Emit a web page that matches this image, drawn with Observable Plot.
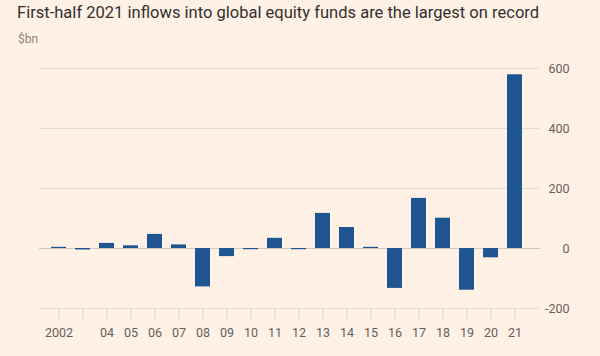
<!DOCTYPE html>
<html>
<head>
<meta charset="utf-8">
<script src="https://cdn.jsdelivr.net/npm/d3@7"></script>
<script src="https://cdn.jsdelivr.net/npm/@observablehq/plot@0.6"></script>
<style>
  html, body { margin: 0; padding: 0; background: #fff1e5; }
  #wrap { width: 600px; height: 356px; background: #fff1e5; font-family: Roboto, "Noto Sans", sans-serif; position: relative; overflow: hidden; }
  #title { position: absolute; left: 17px; top: 2px; font-size: 16.55px; line-height: 22px; color: #33302e; white-space: nowrap; }
  #sub { position: absolute; left: 18px; top: 31px; font-size: 12px; line-height: 16px; color: #8a837d; }
  #chart { position: absolute; left: 0; top: 50px; }
</style>
</head>
<body>
<div id="wrap">
  <div id="title">First-half 2021 inflows into global equity funds are the largest on record</div>
  <div id="sub">$bn</div>
  <div id="chart"></div>
</div>
<script>
const years = [2002, 2003, 2004, 2005, 2006, 2007, 2008, 2009, 2010, 2011,
               2012, 2013, 2014, 2015, 2016, 2017, 2018, 2019, 2020, 2021];
const inflows = [4, -5, 17, 9, 47, 12, -128, -27, -4, 34,
                 -4, 117, 70, 4, -133, 167, 101, -139, -31, 579];
const xTickLabels = ["2002", "", "04", "05", "06", "07", "08", "09", "10", "11",
                     "12", "13", "14", "15", "16", "17", "18", "19", "20", "21"];
const yTicks = [-200, 0, 200, 400, 600];

const data = years.map((y, i) => ({year: y, value: inflows[i]}));

const chart = Plot.plot({
  width: 600,
  height: 306,
  marginTop: 18,
  marginBottom: 48,
  marginLeft: 39,
  marginRight: 60,
  style: {background: "transparent", fontFamily: "Roboto, 'Noto Sans', sans-serif", fontSize: "12px"},
  x: {type: "band", domain: years, paddingInner: 0.36, paddingOuter: 0, insetLeft: 6.5, insetRight: 11.5},
  y: {domain: [-200, 600]},
  marks: [
    Plot.gridY(yTicks, {stroke: "#e6dcd2", strokeOpacity: 1}),
    Plot.ruleY([0], {stroke: "#d2c8be", strokeOpacity: 1}),
    Plot.barY(data, {x: "year", y: "value", fill: "#1f5591"}),
    Plot.axisX({
      tickSize: 12, tickPadding: 8, stroke: "#dcd2c8", color: "#66605c",
      tickFormat: d => xTickLabels[years.indexOf(d)], label: null, fontSize: 12.5
    }),
    Plot.axisY(yTicks, {
      anchor: "right", tickSize: 0, tickPadding: 29, textAnchor: "end",
      tickFormat: d => String(d), label: null, color: "#66605c", fontSize: 12.5
    })
  ]
});
document.getElementById("chart").appendChild(chart);
</script>
</body>
</html>
